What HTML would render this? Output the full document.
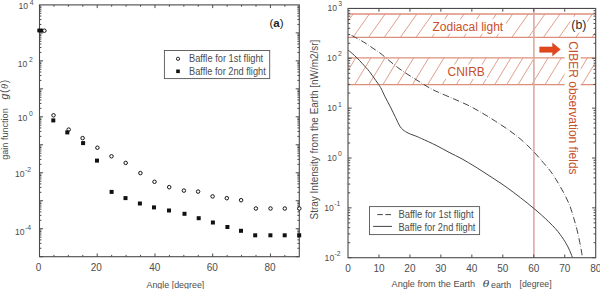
<!DOCTYPE html>
<html><head><meta charset="utf-8"><style>
html,body{margin:0;padding:0;background:#fff;}
body{width:600px;height:289px;overflow:hidden;position:relative;font-family:"Liberation Sans", sans-serif;}
</style></head><body>
<svg width="600" height="289" viewBox="0 0 600 289" style="position:absolute;left:0;top:0;font-family:'Liberation Sans', sans-serif">
<rect width="600" height="289" fill="#fff"/>
<defs><clipPath id="rc"><rect x="348" y="8.45" width="247.7" height="249.25"/></clipPath></defs>
<g clip-path="url(#rc)" stroke="#dc9480" stroke-width="0.9" fill="none">
<line x1="353.1" y1="14" x2="336.6" y2="37.3"/>
<line x1="369.4" y1="14" x2="352.9" y2="37.3"/>
<line x1="385.1" y1="14" x2="368.6" y2="37.3"/>
<line x1="400.8" y1="14" x2="384.3" y2="37.3"/>
<line x1="416.9" y1="14" x2="400.4" y2="37.3"/>
<line x1="432.6" y1="14" x2="416.1" y2="37.3"/>
<line x1="448.3" y1="14" x2="431.8" y2="37.3"/>
<line x1="464" y1="14" x2="447.5" y2="37.3"/>
<line x1="480.2" y1="14" x2="463.7" y2="37.3"/>
<line x1="496.4" y1="14" x2="479.9" y2="37.3"/>
<line x1="512.7" y1="14" x2="496.2" y2="37.3"/>
<line x1="528.4" y1="14" x2="511.9" y2="37.3"/>
<line x1="545" y1="14" x2="528.5" y2="37.3"/>
<line x1="560" y1="14" x2="543.5" y2="37.3"/>
<line x1="575.6" y1="14" x2="559.1" y2="37.3"/>
<line x1="592.5" y1="14" x2="576" y2="37.3"/>
<line x1="608.5" y1="14" x2="592" y2="37.3"/>
<line x1="355.8" y1="57.8" x2="339.5" y2="84.6"/>
<line x1="371" y1="57.8" x2="354.7" y2="84.6"/>
<line x1="385.1" y1="57.8" x2="368.8" y2="84.6"/>
<line x1="399.2" y1="57.8" x2="382.9" y2="84.6"/>
<line x1="413.7" y1="57.8" x2="397.4" y2="84.6"/>
<line x1="428.8" y1="57.8" x2="412.5" y2="84.6"/>
<line x1="444" y1="57.8" x2="427.7" y2="84.6"/>
<line x1="458.6" y1="57.8" x2="442.3" y2="84.6"/>
<line x1="472.6" y1="57.8" x2="456.3" y2="84.6"/>
<line x1="486.1" y1="57.8" x2="469.8" y2="84.6"/>
<line x1="499.1" y1="57.8" x2="482.8" y2="84.6"/>
<line x1="511" y1="57.8" x2="494.7" y2="84.6"/>
<line x1="523" y1="57.8" x2="506.7" y2="84.6"/>
<line x1="534.4" y1="57.8" x2="518.1" y2="84.6"/>
<line x1="548.1" y1="57.8" x2="531.8" y2="84.6"/>
<line x1="561.3" y1="57.8" x2="545" y2="84.6"/>
<line x1="574.5" y1="57.8" x2="558.2" y2="84.6"/>
<line x1="587.5" y1="57.8" x2="571.2" y2="84.6"/>
<line x1="598.3" y1="57.8" x2="582" y2="84.6"/>
</g>
<g stroke="#dd8f7c" stroke-width="1.3" fill="none">
<line x1="348" y1="14" x2="595.7" y2="14"/>
<line x1="348" y1="37.3" x2="595.7" y2="37.3"/>
<line x1="348" y1="57.8" x2="595.7" y2="57.8"/>
<line x1="348" y1="84.6" x2="595.7" y2="84.6"/>
</g>
<line x1="533.9" y1="8.45" x2="533.9" y2="257.7" stroke="#dcaaa2" stroke-width="1.6"/>
<rect x="431" y="19.2" width="75" height="14.5" fill="#fff"/>
<rect x="444" y="64.5" width="43" height="14.5" fill="#fff"/>
<rect x="570.5" y="16.8" width="16.5" height="16" fill="#fff"/>
<rect x="564.7" y="39" width="15.9" height="137" fill="#fff"/>
<text x="432.5" y="30.8" font-size="12" fill="#c8502c">Zodiacal light</text>
<text x="447.5" y="75.8" font-size="12" fill="#c8502c">CNIRB</text>
<text transform="translate(568.8 41.2) rotate(90)" font-size="12" fill="#c8502c" dominant-baseline="auto">CIBER observation fields</text>
<path d="M539.7 46.9 L552.6 46.9 L552.6 43.1 L560.3 49.5 L552.6 55.8 L552.6 52.3 L539.7 52.3 Z" fill="#e2461c" stroke="#c8421f" stroke-width="0.5"/>
<g clip-path="url(#rc)" fill="none" stroke="#444" stroke-width="1">
<path d="M347.6 49.7 C348.37 50.32 350.63 52.03 352.2 53.4 C353.77 54.77 355.37 56.27 357 57.9 C358.63 59.53 360.47 61.55 362 63.2 C363.53 64.85 364.95 66.4 366.2 67.8 C367.45 69.2 368.43 70.25 369.5 71.6 C370.57 72.95 371.58 74.47 372.6 75.9 C373.62 77.33 374.6 78.78 375.6 80.2 C376.6 81.62 377.63 82.93 378.6 84.4 C379.57 85.87 380.3 86.88 381.4 89 C382.5 91.12 383.7 94.12 385.2 97.1 C386.7 100.08 388.67 103.48 390.4 106.9 C392.13 110.32 393.95 114.27 395.6 117.6 C397.25 120.93 398.65 124.57 400.3 126.9 C401.95 129.23 403.77 130.38 405.5 131.6 C407.23 132.82 408.97 133.45 410.7 134.2 C412.43 134.95 414.08 135.37 415.9 136.1 C417.72 136.83 418.25 137.07 421.6 138.6 C424.95 140.13 431.43 143.02 436 145.3 C440.57 147.58 444.67 150.03 449 152.3 C453.33 154.57 457.67 156.52 462 158.9 C466.33 161.28 470.67 163.93 475 166.6 C479.33 169.27 483.67 172.1 488 174.9 C492.33 177.7 496.7 180.45 501 183.4 C505.3 186.35 509.35 189.27 513.8 192.6 C518.25 195.93 523.08 199.67 527.7 203.4 C532.32 207.13 536.88 210.8 541.5 215 C546.12 219.2 551.73 224.55 555.4 228.6 C559.07 232.65 561.32 236.07 563.5 239.3 C565.68 242.53 567.02 245.02 568.5 248 C569.98 250.98 571.75 255.67 572.4 257.2"/>
<path d="M351.6 35.5 C352 35.7 352.5 35.9 354 36.7 C355.5 37.5 358.57 39.15 360.6 40.3 C362.63 41.45 364.13 42.27 366.2 43.6 C368.27 44.93 370.7 46.73 373 48.3 C375.3 49.87 377.38 51.02 380 53 C382.62 54.98 385.82 57.83 388.7 60.2 C391.58 62.57 394.42 65.02 397.3 67.2 C400.18 69.38 403.12 71.38 406 73.3 C408.88 75.22 411.72 76.88 414.6 78.7 C417.48 80.52 420.42 82.45 423.3 84.2 C426.18 85.95 429.12 87.73 431.9 89.2 C434.68 90.67 436.35 91.38 440 93 C443.65 94.62 449.18 96.88 453.8 98.9 C458.42 100.92 463.08 102.82 467.7 105.1 C472.32 107.38 476.88 109.92 481.5 112.6 C486.12 115.28 490.78 118.23 495.4 121.2 C500.02 124.17 504.92 127.33 509.2 130.4 C513.48 133.47 517.05 136.08 521.1 139.6 C525.15 143.12 529.82 147.68 533.5 151.5 C537.18 155.32 540.37 159.22 543.2 162.5 C546.03 165.78 548.35 168.35 550.5 171.2 C552.65 174.05 554.37 176.83 556.1 179.6 C557.83 182.37 559.28 184.93 560.9 187.8 C562.52 190.67 564.25 193.63 565.8 196.8 C567.35 199.97 568.9 203.33 570.2 206.8 C571.5 210.27 572.47 213.77 573.6 217.6 C574.73 221.43 575.97 225.65 577 229.8 C578.03 233.95 579.03 238.8 579.8 242.5 C580.57 246.2 581.18 249.55 581.6 252 C582.02 254.45 582.18 256.33 582.3 257.2" stroke-dasharray="6.6 1.9 0.5 1.9"/>
</g>
<rect x="369.5" y="206.6" width="110.1" height="28" fill="#fff" stroke="#555" stroke-width="0.9"/>
<line x1="377.3" y1="214.6" x2="392" y2="214.6" stroke="#444" stroke-width="1" stroke-dasharray="5.6 2.5"/>
<line x1="373.1" y1="226.4" x2="392" y2="226.4" stroke="#444" stroke-width="1"/>
<text x="398.4" y="217.8" font-size="10" fill="#4d4d4d" textLength="75.3" lengthAdjust="spacingAndGlyphs">Baffle for 1st flight</text>
<text x="398.4" y="230.8" font-size="10" fill="#4d4d4d" textLength="77" lengthAdjust="spacingAndGlyphs">Baffle for 2nd flight</text>
<text x="571.3" y="28.5" font-size="12.3" fill="#2a2a2a">(b)</text>
<g stroke="#4a4a4a" stroke-width="1">
<line x1="378.96" y1="257.7" x2="378.96" y2="254.5"/>
<line x1="378.96" y1="8.45" x2="378.96" y2="11.65"/>
<line x1="409.93" y1="257.7" x2="409.93" y2="254.5"/>
<line x1="409.93" y1="8.45" x2="409.93" y2="11.65"/>
<line x1="440.89" y1="257.7" x2="440.89" y2="254.5"/>
<line x1="440.89" y1="8.45" x2="440.89" y2="11.65"/>
<line x1="471.85" y1="257.7" x2="471.85" y2="254.5"/>
<line x1="471.85" y1="8.45" x2="471.85" y2="11.65"/>
<line x1="502.81" y1="257.7" x2="502.81" y2="254.5"/>
<line x1="502.81" y1="8.45" x2="502.81" y2="11.65"/>
<line x1="533.78" y1="257.7" x2="533.78" y2="254.5"/>
<line x1="533.78" y1="8.45" x2="533.78" y2="11.65"/>
<line x1="564.74" y1="257.7" x2="564.74" y2="254.5"/>
<line x1="564.74" y1="8.45" x2="564.74" y2="11.65"/>
<line x1="348" y1="257.7" x2="351.6" y2="257.7"/>
<line x1="595.7" y1="257.7" x2="592.1" y2="257.7"/>
<line x1="348" y1="242.69" x2="350.2" y2="242.69"/>
<line x1="595.7" y1="242.69" x2="593.5" y2="242.69"/>
<line x1="348" y1="233.92" x2="350.2" y2="233.92"/>
<line x1="595.7" y1="233.92" x2="593.5" y2="233.92"/>
<line x1="348" y1="227.69" x2="350.2" y2="227.69"/>
<line x1="595.7" y1="227.69" x2="593.5" y2="227.69"/>
<line x1="348" y1="222.86" x2="350.2" y2="222.86"/>
<line x1="595.7" y1="222.86" x2="593.5" y2="222.86"/>
<line x1="348" y1="218.91" x2="350.2" y2="218.91"/>
<line x1="595.7" y1="218.91" x2="593.5" y2="218.91"/>
<line x1="348" y1="215.57" x2="350.2" y2="215.57"/>
<line x1="595.7" y1="215.57" x2="593.5" y2="215.57"/>
<line x1="348" y1="212.68" x2="350.2" y2="212.68"/>
<line x1="595.7" y1="212.68" x2="593.5" y2="212.68"/>
<line x1="348" y1="210.13" x2="350.2" y2="210.13"/>
<line x1="595.7" y1="210.13" x2="593.5" y2="210.13"/>
<line x1="348" y1="207.85" x2="351.6" y2="207.85"/>
<line x1="595.7" y1="207.85" x2="592.1" y2="207.85"/>
<line x1="348" y1="192.84" x2="350.2" y2="192.84"/>
<line x1="595.7" y1="192.84" x2="593.5" y2="192.84"/>
<line x1="348" y1="184.07" x2="350.2" y2="184.07"/>
<line x1="595.7" y1="184.07" x2="593.5" y2="184.07"/>
<line x1="348" y1="177.84" x2="350.2" y2="177.84"/>
<line x1="595.7" y1="177.84" x2="593.5" y2="177.84"/>
<line x1="348" y1="173.01" x2="350.2" y2="173.01"/>
<line x1="595.7" y1="173.01" x2="593.5" y2="173.01"/>
<line x1="348" y1="169.06" x2="350.2" y2="169.06"/>
<line x1="595.7" y1="169.06" x2="593.5" y2="169.06"/>
<line x1="348" y1="165.72" x2="350.2" y2="165.72"/>
<line x1="595.7" y1="165.72" x2="593.5" y2="165.72"/>
<line x1="348" y1="162.83" x2="350.2" y2="162.83"/>
<line x1="595.7" y1="162.83" x2="593.5" y2="162.83"/>
<line x1="348" y1="160.28" x2="350.2" y2="160.28"/>
<line x1="595.7" y1="160.28" x2="593.5" y2="160.28"/>
<line x1="348" y1="158" x2="351.6" y2="158"/>
<line x1="595.7" y1="158" x2="592.1" y2="158"/>
<line x1="348" y1="142.99" x2="350.2" y2="142.99"/>
<line x1="595.7" y1="142.99" x2="593.5" y2="142.99"/>
<line x1="348" y1="134.22" x2="350.2" y2="134.22"/>
<line x1="595.7" y1="134.22" x2="593.5" y2="134.22"/>
<line x1="348" y1="127.99" x2="350.2" y2="127.99"/>
<line x1="595.7" y1="127.99" x2="593.5" y2="127.99"/>
<line x1="348" y1="123.16" x2="350.2" y2="123.16"/>
<line x1="595.7" y1="123.16" x2="593.5" y2="123.16"/>
<line x1="348" y1="119.21" x2="350.2" y2="119.21"/>
<line x1="595.7" y1="119.21" x2="593.5" y2="119.21"/>
<line x1="348" y1="115.87" x2="350.2" y2="115.87"/>
<line x1="595.7" y1="115.87" x2="593.5" y2="115.87"/>
<line x1="348" y1="112.98" x2="350.2" y2="112.98"/>
<line x1="595.7" y1="112.98" x2="593.5" y2="112.98"/>
<line x1="348" y1="110.43" x2="350.2" y2="110.43"/>
<line x1="595.7" y1="110.43" x2="593.5" y2="110.43"/>
<line x1="348" y1="108.15" x2="351.6" y2="108.15"/>
<line x1="595.7" y1="108.15" x2="592.1" y2="108.15"/>
<line x1="348" y1="93.14" x2="350.2" y2="93.14"/>
<line x1="595.7" y1="93.14" x2="593.5" y2="93.14"/>
<line x1="348" y1="84.37" x2="350.2" y2="84.37"/>
<line x1="595.7" y1="84.37" x2="593.5" y2="84.37"/>
<line x1="348" y1="78.14" x2="350.2" y2="78.14"/>
<line x1="595.7" y1="78.14" x2="593.5" y2="78.14"/>
<line x1="348" y1="73.31" x2="350.2" y2="73.31"/>
<line x1="595.7" y1="73.31" x2="593.5" y2="73.31"/>
<line x1="348" y1="69.36" x2="350.2" y2="69.36"/>
<line x1="595.7" y1="69.36" x2="593.5" y2="69.36"/>
<line x1="348" y1="66.02" x2="350.2" y2="66.02"/>
<line x1="595.7" y1="66.02" x2="593.5" y2="66.02"/>
<line x1="348" y1="63.13" x2="350.2" y2="63.13"/>
<line x1="595.7" y1="63.13" x2="593.5" y2="63.13"/>
<line x1="348" y1="60.58" x2="350.2" y2="60.58"/>
<line x1="595.7" y1="60.58" x2="593.5" y2="60.58"/>
<line x1="348" y1="58.3" x2="351.6" y2="58.3"/>
<line x1="595.7" y1="58.3" x2="592.1" y2="58.3"/>
<line x1="348" y1="43.29" x2="350.2" y2="43.29"/>
<line x1="595.7" y1="43.29" x2="593.5" y2="43.29"/>
<line x1="348" y1="34.52" x2="350.2" y2="34.52"/>
<line x1="595.7" y1="34.52" x2="593.5" y2="34.52"/>
<line x1="348" y1="28.29" x2="350.2" y2="28.29"/>
<line x1="595.7" y1="28.29" x2="593.5" y2="28.29"/>
<line x1="348" y1="23.46" x2="350.2" y2="23.46"/>
<line x1="595.7" y1="23.46" x2="593.5" y2="23.46"/>
<line x1="348" y1="19.51" x2="350.2" y2="19.51"/>
<line x1="595.7" y1="19.51" x2="593.5" y2="19.51"/>
<line x1="348" y1="16.17" x2="350.2" y2="16.17"/>
<line x1="595.7" y1="16.17" x2="593.5" y2="16.17"/>
<line x1="348" y1="13.28" x2="350.2" y2="13.28"/>
<line x1="595.7" y1="13.28" x2="593.5" y2="13.28"/>
<line x1="348" y1="10.73" x2="350.2" y2="10.73"/>
<line x1="595.7" y1="10.73" x2="593.5" y2="10.73"/>
</g>
<rect x="348" y="8.45" width="247.7" height="249.25" fill="none" stroke="#4a4a4a" stroke-width="1.1"/>
<text x="348" y="272" font-size="10" fill="#4d4d4d" text-anchor="middle">0</text>
<text x="378.96" y="272" font-size="10" fill="#4d4d4d" text-anchor="middle">10</text>
<text x="409.93" y="272" font-size="10" fill="#4d4d4d" text-anchor="middle">20</text>
<text x="440.89" y="272" font-size="10" fill="#4d4d4d" text-anchor="middle">30</text>
<text x="471.85" y="272" font-size="10" fill="#4d4d4d" text-anchor="middle">40</text>
<text x="502.81" y="272" font-size="10" fill="#4d4d4d" text-anchor="middle">50</text>
<text x="533.78" y="272" font-size="10" fill="#4d4d4d" text-anchor="middle">60</text>
<text x="564.74" y="272" font-size="10" fill="#4d4d4d" text-anchor="middle">70</text>
<text x="595.7" y="272" font-size="10" fill="#4d4d4d" text-anchor="middle">80</text>
<text x="327.5" y="10.9" font-size="9.6" fill="#4d4d4d" textLength="9.6" lengthAdjust="spacingAndGlyphs">10</text>
<text x="338.3" y="6.3" font-size="6.8" fill="#4d4d4d">3</text>
<text x="327.1" y="60.8" font-size="9.6" fill="#4d4d4d" textLength="9.6" lengthAdjust="spacingAndGlyphs">10</text>
<text x="337.9" y="56.2" font-size="6.8" fill="#4d4d4d">2</text>
<text x="327.2" y="111.1" font-size="9.6" fill="#4d4d4d" textLength="9.6" lengthAdjust="spacingAndGlyphs">10</text>
<text x="338" y="106.5" font-size="6.8" fill="#4d4d4d">1</text>
<text x="327.3" y="161" font-size="9.6" fill="#4d4d4d" textLength="9.6" lengthAdjust="spacingAndGlyphs">10</text>
<text x="338.1" y="156.4" font-size="6.8" fill="#4d4d4d">0</text>
<text x="324.2" y="211" font-size="9.6" fill="#4d4d4d" textLength="9.6" lengthAdjust="spacingAndGlyphs">10</text>
<text x="334.2" y="206.4" font-size="6.8" fill="#4d4d4d">-1</text>
<text x="324.6" y="260.6" font-size="9.6" fill="#4d4d4d" textLength="9.6" lengthAdjust="spacingAndGlyphs">10</text>
<text x="334.6" y="256" font-size="6.8" fill="#4d4d4d">-2</text>
<text x="391.6" y="287.3" font-size="9.6" fill="#4d4d4d" textLength="83.6" lengthAdjust="spacingAndGlyphs">Angle from the Earth</text>
<text x="482.6" y="286.8" font-size="9.8" font-style="italic" fill="#4d4d4d" font-family="Liberation Serif, serif" textLength="6.8" lengthAdjust="spacingAndGlyphs">θ</text>
<text x="491" y="288.4" font-size="8.4" fill="#4d4d4d" textLength="20.2" lengthAdjust="spacingAndGlyphs">earth</text>
<text x="519.5" y="287.3" font-size="9.6" fill="#4d4d4d" textLength="32.2" lengthAdjust="spacingAndGlyphs">[degree]</text>
<text transform="translate(318.2 219.4) rotate(-90)" font-size="10" fill="#4d4d4d" textLength="179.7" lengthAdjust="spacingAndGlyphs">Stray Intensity from the Earth [nW/m2/sr]</text>
<g stroke="#4a4a4a" stroke-width="1">
<line x1="53.93" y1="256.7" x2="53.93" y2="254.9"/>
<line x1="53.93" y1="4.9" x2="53.93" y2="6.7"/>
<line x1="68.37" y1="256.7" x2="68.37" y2="254.9"/>
<line x1="68.37" y1="4.9" x2="68.37" y2="6.7"/>
<line x1="82.8" y1="256.7" x2="82.8" y2="254.9"/>
<line x1="82.8" y1="4.9" x2="82.8" y2="6.7"/>
<line x1="97.23" y1="256.7" x2="97.23" y2="253.5"/>
<line x1="97.23" y1="4.9" x2="97.23" y2="8.1"/>
<line x1="111.67" y1="256.7" x2="111.67" y2="254.9"/>
<line x1="111.67" y1="4.9" x2="111.67" y2="6.7"/>
<line x1="126.1" y1="256.7" x2="126.1" y2="254.9"/>
<line x1="126.1" y1="4.9" x2="126.1" y2="6.7"/>
<line x1="140.53" y1="256.7" x2="140.53" y2="254.9"/>
<line x1="140.53" y1="4.9" x2="140.53" y2="6.7"/>
<line x1="154.97" y1="256.7" x2="154.97" y2="253.5"/>
<line x1="154.97" y1="4.9" x2="154.97" y2="8.1"/>
<line x1="169.4" y1="256.7" x2="169.4" y2="254.9"/>
<line x1="169.4" y1="4.9" x2="169.4" y2="6.7"/>
<line x1="183.83" y1="256.7" x2="183.83" y2="254.9"/>
<line x1="183.83" y1="4.9" x2="183.83" y2="6.7"/>
<line x1="198.27" y1="256.7" x2="198.27" y2="254.9"/>
<line x1="198.27" y1="4.9" x2="198.27" y2="6.7"/>
<line x1="212.7" y1="256.7" x2="212.7" y2="253.5"/>
<line x1="212.7" y1="4.9" x2="212.7" y2="8.1"/>
<line x1="227.13" y1="256.7" x2="227.13" y2="254.9"/>
<line x1="227.13" y1="4.9" x2="227.13" y2="6.7"/>
<line x1="241.57" y1="256.7" x2="241.57" y2="254.9"/>
<line x1="241.57" y1="4.9" x2="241.57" y2="6.7"/>
<line x1="256" y1="256.7" x2="256" y2="254.9"/>
<line x1="256" y1="4.9" x2="256" y2="6.7"/>
<line x1="270.43" y1="256.7" x2="270.43" y2="253.5"/>
<line x1="270.43" y1="4.9" x2="270.43" y2="8.1"/>
<line x1="284.87" y1="256.7" x2="284.87" y2="254.9"/>
<line x1="284.87" y1="4.9" x2="284.87" y2="6.7"/>
<line x1="39.5" y1="256.7" x2="43.1" y2="256.7"/>
<line x1="299.3" y1="256.7" x2="295.7" y2="256.7"/>
<line x1="39.5" y1="248.28" x2="41.4" y2="248.28"/>
<line x1="299.3" y1="248.28" x2="297.4" y2="248.28"/>
<line x1="39.5" y1="243.35" x2="41.4" y2="243.35"/>
<line x1="299.3" y1="243.35" x2="297.4" y2="243.35"/>
<line x1="39.5" y1="239.86" x2="41.4" y2="239.86"/>
<line x1="299.3" y1="239.86" x2="297.4" y2="239.86"/>
<line x1="39.5" y1="237.14" x2="41.4" y2="237.14"/>
<line x1="299.3" y1="237.14" x2="297.4" y2="237.14"/>
<line x1="39.5" y1="234.93" x2="41.4" y2="234.93"/>
<line x1="299.3" y1="234.93" x2="297.4" y2="234.93"/>
<line x1="39.5" y1="233.06" x2="41.4" y2="233.06"/>
<line x1="299.3" y1="233.06" x2="297.4" y2="233.06"/>
<line x1="39.5" y1="231.43" x2="41.4" y2="231.43"/>
<line x1="299.3" y1="231.43" x2="297.4" y2="231.43"/>
<line x1="39.5" y1="230" x2="41.4" y2="230"/>
<line x1="299.3" y1="230" x2="297.4" y2="230"/>
<line x1="39.5" y1="228.72" x2="43.1" y2="228.72"/>
<line x1="299.3" y1="228.72" x2="295.7" y2="228.72"/>
<line x1="39.5" y1="220.3" x2="41.4" y2="220.3"/>
<line x1="299.3" y1="220.3" x2="297.4" y2="220.3"/>
<line x1="39.5" y1="215.37" x2="41.4" y2="215.37"/>
<line x1="299.3" y1="215.37" x2="297.4" y2="215.37"/>
<line x1="39.5" y1="211.88" x2="41.4" y2="211.88"/>
<line x1="299.3" y1="211.88" x2="297.4" y2="211.88"/>
<line x1="39.5" y1="209.17" x2="41.4" y2="209.17"/>
<line x1="299.3" y1="209.17" x2="297.4" y2="209.17"/>
<line x1="39.5" y1="206.95" x2="41.4" y2="206.95"/>
<line x1="299.3" y1="206.95" x2="297.4" y2="206.95"/>
<line x1="39.5" y1="205.08" x2="41.4" y2="205.08"/>
<line x1="299.3" y1="205.08" x2="297.4" y2="205.08"/>
<line x1="39.5" y1="203.46" x2="41.4" y2="203.46"/>
<line x1="299.3" y1="203.46" x2="297.4" y2="203.46"/>
<line x1="39.5" y1="202.02" x2="41.4" y2="202.02"/>
<line x1="299.3" y1="202.02" x2="297.4" y2="202.02"/>
<line x1="39.5" y1="200.74" x2="43.1" y2="200.74"/>
<line x1="299.3" y1="200.74" x2="295.7" y2="200.74"/>
<line x1="39.5" y1="192.32" x2="41.4" y2="192.32"/>
<line x1="299.3" y1="192.32" x2="297.4" y2="192.32"/>
<line x1="39.5" y1="187.4" x2="41.4" y2="187.4"/>
<line x1="299.3" y1="187.4" x2="297.4" y2="187.4"/>
<line x1="39.5" y1="183.9" x2="41.4" y2="183.9"/>
<line x1="299.3" y1="183.9" x2="297.4" y2="183.9"/>
<line x1="39.5" y1="181.19" x2="41.4" y2="181.19"/>
<line x1="299.3" y1="181.19" x2="297.4" y2="181.19"/>
<line x1="39.5" y1="178.97" x2="41.4" y2="178.97"/>
<line x1="299.3" y1="178.97" x2="297.4" y2="178.97"/>
<line x1="39.5" y1="177.1" x2="41.4" y2="177.1"/>
<line x1="299.3" y1="177.1" x2="297.4" y2="177.1"/>
<line x1="39.5" y1="175.48" x2="41.4" y2="175.48"/>
<line x1="299.3" y1="175.48" x2="297.4" y2="175.48"/>
<line x1="39.5" y1="174.05" x2="41.4" y2="174.05"/>
<line x1="299.3" y1="174.05" x2="297.4" y2="174.05"/>
<line x1="39.5" y1="172.77" x2="43.1" y2="172.77"/>
<line x1="299.3" y1="172.77" x2="295.7" y2="172.77"/>
<line x1="39.5" y1="164.34" x2="41.4" y2="164.34"/>
<line x1="299.3" y1="164.34" x2="297.4" y2="164.34"/>
<line x1="39.5" y1="159.42" x2="41.4" y2="159.42"/>
<line x1="299.3" y1="159.42" x2="297.4" y2="159.42"/>
<line x1="39.5" y1="155.92" x2="41.4" y2="155.92"/>
<line x1="299.3" y1="155.92" x2="297.4" y2="155.92"/>
<line x1="39.5" y1="153.21" x2="41.4" y2="153.21"/>
<line x1="299.3" y1="153.21" x2="297.4" y2="153.21"/>
<line x1="39.5" y1="151" x2="41.4" y2="151"/>
<line x1="299.3" y1="151" x2="297.4" y2="151"/>
<line x1="39.5" y1="149.12" x2="41.4" y2="149.12"/>
<line x1="299.3" y1="149.12" x2="297.4" y2="149.12"/>
<line x1="39.5" y1="147.5" x2="41.4" y2="147.5"/>
<line x1="299.3" y1="147.5" x2="297.4" y2="147.5"/>
<line x1="39.5" y1="146.07" x2="41.4" y2="146.07"/>
<line x1="299.3" y1="146.07" x2="297.4" y2="146.07"/>
<line x1="39.5" y1="144.79" x2="43.1" y2="144.79"/>
<line x1="299.3" y1="144.79" x2="295.7" y2="144.79"/>
<line x1="39.5" y1="136.37" x2="41.4" y2="136.37"/>
<line x1="299.3" y1="136.37" x2="297.4" y2="136.37"/>
<line x1="39.5" y1="131.44" x2="41.4" y2="131.44"/>
<line x1="299.3" y1="131.44" x2="297.4" y2="131.44"/>
<line x1="39.5" y1="127.94" x2="41.4" y2="127.94"/>
<line x1="299.3" y1="127.94" x2="297.4" y2="127.94"/>
<line x1="39.5" y1="125.23" x2="41.4" y2="125.23"/>
<line x1="299.3" y1="125.23" x2="297.4" y2="125.23"/>
<line x1="39.5" y1="123.02" x2="41.4" y2="123.02"/>
<line x1="299.3" y1="123.02" x2="297.4" y2="123.02"/>
<line x1="39.5" y1="121.14" x2="41.4" y2="121.14"/>
<line x1="299.3" y1="121.14" x2="297.4" y2="121.14"/>
<line x1="39.5" y1="119.52" x2="41.4" y2="119.52"/>
<line x1="299.3" y1="119.52" x2="297.4" y2="119.52"/>
<line x1="39.5" y1="118.09" x2="41.4" y2="118.09"/>
<line x1="299.3" y1="118.09" x2="297.4" y2="118.09"/>
<line x1="39.5" y1="116.81" x2="43.1" y2="116.81"/>
<line x1="299.3" y1="116.81" x2="295.7" y2="116.81"/>
<line x1="39.5" y1="108.39" x2="41.4" y2="108.39"/>
<line x1="299.3" y1="108.39" x2="297.4" y2="108.39"/>
<line x1="39.5" y1="103.46" x2="41.4" y2="103.46"/>
<line x1="299.3" y1="103.46" x2="297.4" y2="103.46"/>
<line x1="39.5" y1="99.97" x2="41.4" y2="99.97"/>
<line x1="299.3" y1="99.97" x2="297.4" y2="99.97"/>
<line x1="39.5" y1="97.26" x2="41.4" y2="97.26"/>
<line x1="299.3" y1="97.26" x2="297.4" y2="97.26"/>
<line x1="39.5" y1="95.04" x2="41.4" y2="95.04"/>
<line x1="299.3" y1="95.04" x2="297.4" y2="95.04"/>
<line x1="39.5" y1="93.17" x2="41.4" y2="93.17"/>
<line x1="299.3" y1="93.17" x2="297.4" y2="93.17"/>
<line x1="39.5" y1="91.54" x2="41.4" y2="91.54"/>
<line x1="299.3" y1="91.54" x2="297.4" y2="91.54"/>
<line x1="39.5" y1="90.11" x2="41.4" y2="90.11"/>
<line x1="299.3" y1="90.11" x2="297.4" y2="90.11"/>
<line x1="39.5" y1="88.83" x2="43.1" y2="88.83"/>
<line x1="299.3" y1="88.83" x2="295.7" y2="88.83"/>
<line x1="39.5" y1="80.41" x2="41.4" y2="80.41"/>
<line x1="299.3" y1="80.41" x2="297.4" y2="80.41"/>
<line x1="39.5" y1="75.48" x2="41.4" y2="75.48"/>
<line x1="299.3" y1="75.48" x2="297.4" y2="75.48"/>
<line x1="39.5" y1="71.99" x2="41.4" y2="71.99"/>
<line x1="299.3" y1="71.99" x2="297.4" y2="71.99"/>
<line x1="39.5" y1="69.28" x2="41.4" y2="69.28"/>
<line x1="299.3" y1="69.28" x2="297.4" y2="69.28"/>
<line x1="39.5" y1="67.06" x2="41.4" y2="67.06"/>
<line x1="299.3" y1="67.06" x2="297.4" y2="67.06"/>
<line x1="39.5" y1="65.19" x2="41.4" y2="65.19"/>
<line x1="299.3" y1="65.19" x2="297.4" y2="65.19"/>
<line x1="39.5" y1="63.57" x2="41.4" y2="63.57"/>
<line x1="299.3" y1="63.57" x2="297.4" y2="63.57"/>
<line x1="39.5" y1="62.14" x2="41.4" y2="62.14"/>
<line x1="299.3" y1="62.14" x2="297.4" y2="62.14"/>
<line x1="39.5" y1="60.86" x2="43.1" y2="60.86"/>
<line x1="299.3" y1="60.86" x2="295.7" y2="60.86"/>
<line x1="39.5" y1="52.43" x2="41.4" y2="52.43"/>
<line x1="299.3" y1="52.43" x2="297.4" y2="52.43"/>
<line x1="39.5" y1="47.51" x2="41.4" y2="47.51"/>
<line x1="299.3" y1="47.51" x2="297.4" y2="47.51"/>
<line x1="39.5" y1="44.01" x2="41.4" y2="44.01"/>
<line x1="299.3" y1="44.01" x2="297.4" y2="44.01"/>
<line x1="39.5" y1="41.3" x2="41.4" y2="41.3"/>
<line x1="299.3" y1="41.3" x2="297.4" y2="41.3"/>
<line x1="39.5" y1="39.08" x2="41.4" y2="39.08"/>
<line x1="299.3" y1="39.08" x2="297.4" y2="39.08"/>
<line x1="39.5" y1="37.21" x2="41.4" y2="37.21"/>
<line x1="299.3" y1="37.21" x2="297.4" y2="37.21"/>
<line x1="39.5" y1="35.59" x2="41.4" y2="35.59"/>
<line x1="299.3" y1="35.59" x2="297.4" y2="35.59"/>
<line x1="39.5" y1="34.16" x2="41.4" y2="34.16"/>
<line x1="299.3" y1="34.16" x2="297.4" y2="34.16"/>
<line x1="39.5" y1="32.88" x2="43.1" y2="32.88"/>
<line x1="299.3" y1="32.88" x2="295.7" y2="32.88"/>
<line x1="39.5" y1="24.46" x2="41.4" y2="24.46"/>
<line x1="299.3" y1="24.46" x2="297.4" y2="24.46"/>
<line x1="39.5" y1="19.53" x2="41.4" y2="19.53"/>
<line x1="299.3" y1="19.53" x2="297.4" y2="19.53"/>
<line x1="39.5" y1="16.03" x2="41.4" y2="16.03"/>
<line x1="299.3" y1="16.03" x2="297.4" y2="16.03"/>
<line x1="39.5" y1="13.32" x2="41.4" y2="13.32"/>
<line x1="299.3" y1="13.32" x2="297.4" y2="13.32"/>
<line x1="39.5" y1="11.11" x2="41.4" y2="11.11"/>
<line x1="299.3" y1="11.11" x2="297.4" y2="11.11"/>
<line x1="39.5" y1="9.23" x2="41.4" y2="9.23"/>
<line x1="299.3" y1="9.23" x2="297.4" y2="9.23"/>
<line x1="39.5" y1="7.61" x2="41.4" y2="7.61"/>
<line x1="299.3" y1="7.61" x2="297.4" y2="7.61"/>
<line x1="39.5" y1="6.18" x2="41.4" y2="6.18"/>
<line x1="299.3" y1="6.18" x2="297.4" y2="6.18"/>
</g>
<rect x="39.5" y="4.9" width="259.8" height="251.8" fill="none" stroke="#4a4a4a" stroke-width="1.1"/>
<rect x="164.4" y="50.5" width="105.3" height="28.1" fill="#fff" stroke="#555" stroke-width="0.9"/>
<circle cx="178" cy="58.8" r="1.6" fill="#fff" stroke="#111" stroke-width="0.9"/>
<rect x="176.2" y="69.5" width="3.6" height="3.6" fill="#111"/>
<text x="189" y="62.1" font-size="10.2" fill="#4d4d4d" textLength="74.2" lengthAdjust="spacingAndGlyphs">Baffle for 1st flight</text>
<text x="189" y="74.7" font-size="10.2" fill="#4d4d4d" textLength="76.7" lengthAdjust="spacingAndGlyphs">Baffle for 2nd flight</text>
<text x="269.4" y="26.6" font-size="11.5" fill="#222">(<tspan font-weight="bold">a</tspan>)</text>
<circle cx="44.4" cy="30.7" r="1.75" fill="#fff" stroke="#111" stroke-width="1"/>
<circle cx="53.5" cy="115.3" r="1.75" fill="#fff" stroke="#111" stroke-width="1"/>
<circle cx="68.7" cy="129.6" r="1.75" fill="#fff" stroke="#111" stroke-width="1"/>
<circle cx="82.6" cy="138.1" r="1.75" fill="#fff" stroke="#111" stroke-width="1"/>
<circle cx="97.4" cy="147.7" r="1.75" fill="#fff" stroke="#111" stroke-width="1"/>
<circle cx="111.5" cy="156.3" r="1.75" fill="#fff" stroke="#111" stroke-width="1"/>
<circle cx="125.7" cy="162.9" r="1.75" fill="#fff" stroke="#111" stroke-width="1"/>
<circle cx="140.4" cy="173.1" r="1.75" fill="#fff" stroke="#111" stroke-width="1"/>
<circle cx="154.5" cy="181.8" r="1.75" fill="#fff" stroke="#111" stroke-width="1"/>
<circle cx="169.2" cy="187.2" r="1.75" fill="#fff" stroke="#111" stroke-width="1"/>
<circle cx="183.9" cy="190.6" r="1.75" fill="#fff" stroke="#111" stroke-width="1"/>
<circle cx="198.1" cy="191.6" r="1.75" fill="#fff" stroke="#111" stroke-width="1"/>
<circle cx="212.6" cy="196.4" r="1.75" fill="#fff" stroke="#111" stroke-width="1"/>
<circle cx="226.8" cy="198.2" r="1.75" fill="#fff" stroke="#111" stroke-width="1"/>
<circle cx="241.1" cy="200.2" r="1.75" fill="#fff" stroke="#111" stroke-width="1"/>
<circle cx="255.9" cy="208.5" r="1.75" fill="#fff" stroke="#111" stroke-width="1"/>
<circle cx="270.5" cy="208.5" r="1.75" fill="#fff" stroke="#111" stroke-width="1"/>
<circle cx="284.8" cy="208.5" r="1.75" fill="#fff" stroke="#111" stroke-width="1"/>
<circle cx="299.3" cy="208.5" r="1.75" fill="#fff" stroke="#111" stroke-width="1"/>
<rect x="51.3" y="118.4" width="4" height="4" fill="#111"/>
<rect x="65.3" y="130.4" width="4" height="4" fill="#111"/>
<rect x="81.1" y="141.1" width="4" height="4" fill="#111"/>
<rect x="95" y="158.6" width="4" height="4" fill="#111"/>
<rect x="109.6" y="189.9" width="4" height="4" fill="#111"/>
<rect x="123.5" y="196.1" width="4" height="4" fill="#111"/>
<rect x="137.9" y="201.5" width="4" height="4" fill="#111"/>
<rect x="152" y="205.4" width="4" height="4" fill="#111"/>
<rect x="167" y="208.5" width="4" height="4" fill="#111"/>
<rect x="182.5" y="211.8" width="4" height="4" fill="#111"/>
<rect x="196.7" y="216.2" width="4" height="4" fill="#111"/>
<rect x="210.9" y="220.5" width="4" height="4" fill="#111"/>
<rect x="225.4" y="225" width="4" height="4" fill="#111"/>
<rect x="239" y="228.8" width="4" height="4" fill="#111"/>
<rect x="253.2" y="233.3" width="4" height="4" fill="#111"/>
<rect x="268.4" y="233.3" width="4" height="4" fill="#111"/>
<rect x="282.7" y="233.3" width="4" height="4" fill="#111"/>
<rect x="297.2" y="233.3" width="4" height="4" fill="#111"/>
<rect x="37.3" y="28.6" width="5.7" height="4" rx="0.8" fill="#111"/>
<text x="38.5" y="271.1" font-size="10" fill="#4d4d4d" text-anchor="middle">0</text>
<text x="96.2" y="271.1" font-size="10" fill="#4d4d4d" text-anchor="middle">20</text>
<text x="154.7" y="271.1" font-size="10" fill="#4d4d4d" text-anchor="middle">40</text>
<text x="212.3" y="271.1" font-size="10" fill="#4d4d4d" text-anchor="middle">60</text>
<text x="270.1" y="271.1" font-size="10" fill="#4d4d4d" text-anchor="middle">80</text>
<text x="18.5" y="9" font-size="9.6" fill="#4d4d4d" textLength="9.6" lengthAdjust="spacingAndGlyphs">10</text>
<text x="29.7" y="4.7" font-size="6.8" fill="#4d4d4d">4</text>
<text x="17.8" y="66.6" font-size="9.6" fill="#4d4d4d" textLength="9.6" lengthAdjust="spacingAndGlyphs">10</text>
<text x="29" y="62.3" font-size="6.8" fill="#4d4d4d">2</text>
<text x="17.8" y="120.5" font-size="9.6" fill="#4d4d4d" textLength="9.6" lengthAdjust="spacingAndGlyphs">10</text>
<text x="29" y="116.2" font-size="6.8" fill="#4d4d4d">0</text>
<text x="14.9" y="176.6" font-size="9.6" fill="#4d4d4d" textLength="9.6" lengthAdjust="spacingAndGlyphs">10</text>
<text x="25.1" y="172.3" font-size="6.8" fill="#4d4d4d">-2</text>
<text x="14.9" y="234.7" font-size="9.6" fill="#4d4d4d" textLength="9.6" lengthAdjust="spacingAndGlyphs">10</text>
<text x="25.1" y="230.4" font-size="6.8" fill="#4d4d4d">-4</text>
<text x="146.5" y="287.6" font-size="9.6" fill="#4d4d4d" textLength="57.8" lengthAdjust="spacingAndGlyphs">Angle [degree]</text>
<text transform="translate(7.8 159.8) rotate(-90)" font-size="9" fill="#4d4d4d" textLength="51.5" lengthAdjust="spacingAndGlyphs">gain function</text>
<text transform="translate(7.8 99.4) rotate(-90)" font-size="10.5" fill="#4d4d4d" textLength="19.6" lengthAdjust="spacing"><tspan font-style="italic">g</tspan>(<tspan font-style="italic" font-family="Liberation Serif, serif">θ</tspan>)</text>
</svg>
</body></html>
